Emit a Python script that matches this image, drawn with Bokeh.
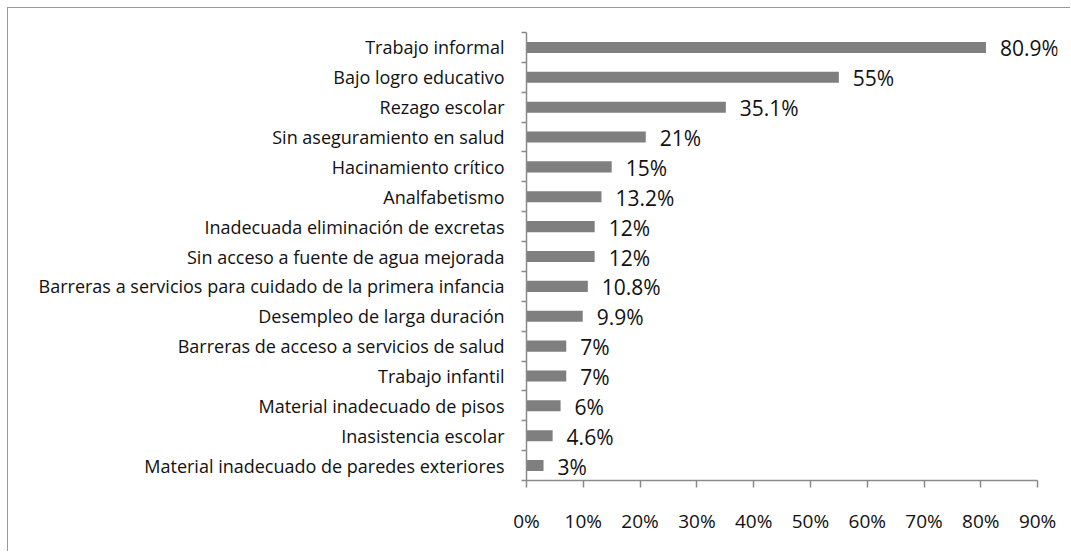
from bokeh.plotting import figure
from bokeh.models import (Range1d, FixedTicker, PrintfTickFormatter, ColumnDataSource, LabelSet)
from bokeh.core.properties import value
from bokeh.embed import file_html
from bokeh.resources import INLINE

categories = [
    "Trabajo informal",
    "Bajo logro educativo",
    "Rezago escolar",
    "Sin aseguramiento en salud",
    "Hacinamiento crítico",
    "Analfabetismo",
    "Inadecuada eliminación de excretas",
    "Sin acceso a fuente de agua mejorada",
    "Barreras a servicios para cuidado de la primera infancia",
    "Desempleo de larga duración",
    "Barreras de acceso a servicios de salud",
    "Trabajo infantil",
    "Material inadecuado de pisos",
    "Inasistencia escolar",
    "Material inadecuado de paredes exteriores",
]
values = [80.9, 55, 35.1, 21, 15, 13.2, 12, 12, 10.8, 9.9, 7, 7, 6, 4.6, 3]
x_ticks = [0, 10, 20, 30, 40, 50, 60, 70, 80, 90]

n = len(categories)
ypos = [n - i - 0.5 for i in range(n)]
labels = [f"{v:g}%" for v in values]

src = ColumnDataSource(dict(y=ypos, v=values, lab=labels, cat=categories))

FONT = "Open Sans"
AX = "#8a8a8a"

p = figure(width=1062, height=543, output_backend="svg", toolbar_location=None,
           x_range=Range1d(0, 93.5), y_range=Range1d(0, n),
           frame_width=531, frame_height=448,
           min_border_left=518, min_border_top=24, min_border_right=13, min_border_bottom=71)
p.styles = {"margin-left": "7px", "margin-top": "7px",
            "border-left": "1px solid #9a9a9a", "border-top": "1px solid #9a9a9a"}
p.outline_line_color = None
p.xgrid.visible = False
p.ygrid.visible = False
p.background_fill_color = "white"
p.border_fill_color = "white"

p.hbar(y="y", right="v", left=0, height=0.37, source=src,
       fill_color="#7f7f7f", line_color=None)

ls = LabelSet(x="v", y="y", text="lab", source=src, x_offset=14, y_offset=-1,
              text_font=value(FONT), text_font_size="21px", text_color="#111111",
              text_baseline="middle", text_align="left")
p.add_layout(ls)

# x axis
xa = p.xaxis[0]
xa.ticker = FixedTicker(ticks=x_ticks, minor_ticks=[])
xa.formatter = PrintfTickFormatter(format="%d%%")
xa.bounds = (0, 90)
xa.axis_line_color = AX
xa.axis_line_width = 1.5
xa.major_tick_line_color = AX
xa.major_tick_line_width = 1.5
xa.major_tick_out = 7
xa.major_tick_in = 0
xa.minor_tick_line_color = None
xa.major_label_standoff = 20
xa.major_label_text_font = FONT
xa.major_label_text_font_size = "19px"
xa.major_label_text_color = "#111111"

# y axis
ya = p.yaxis[0]
ya.ticker = FixedTicker(ticks=ypos, minor_ticks=list(range(n + 1)))
ya.major_label_overrides = {y: c for y, c in zip(ypos, categories)}
ya.axis_line_color = AX
ya.axis_line_width = 1.5
ya.major_tick_line_color = None
ya.major_tick_out = 0
ya.major_tick_in = 0
ya.minor_tick_line_color = AX
ya.minor_tick_line_width = 1.5
ya.minor_tick_out = 5
ya.minor_tick_in = 0
ya.major_label_standoff = 17
ya.major_label_text_font = FONT
ya.major_label_text_font_size = "18px"
ya.major_label_text_color = "#111111"

open("out.html", "w").write(file_html(p, INLINE))
